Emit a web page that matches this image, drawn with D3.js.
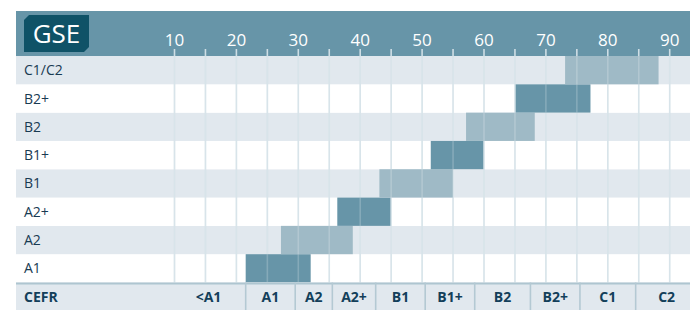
<!DOCTYPE html>
<html>
<head>
<meta charset="utf-8">
<script src="https://cdn.jsdelivr.net/npm/d3@7"></script>
<style>
  body { margin: 0; background: #fff; }
  svg { display: block; font-family: "Open Sans", sans-serif; }
</style>
</head>
<body>
<svg id="chart" width="690" height="310"></svg>
<script>
// GSE score range per CEFR level (rows, bottom to top)
const levels = ["A1", "A2", "A2+", "B1", "B1+", "B2", "B2+", "C1/C2"];
const rangeStart = [21.5, 27.2, 36.3, 43.1, 51.4, 57.1, 65.1, 73.1];
const rangeEnd = [32, 38.8, 44.9, 55, 59.9, 68.2, 77.2, 88.2];

// GSE axis
const gseTicks = [10, 20, 30, 40, 50, 60, 70, 80, 90];
const gridTicks = d3.range(10, 91, 5);

// CEFR band along the bottom
const cefrLabels = ["<A1", "A1", "A2", "A2+", "B1", "B1+", "B2", "B2+", "C1", "C2"];
const cefrBounds = [9.5, 21.5, 29.5, 35.5, 42.5, 50.5, 58.5, 67.5, 75.5, 84.5, 94.5];

const svg = d3.select("#chart");
const left = 16, right = 690;
const headTop = 11, headBottom = 56, plotBottom = 282.5, bottom = 310;

const x = d3.scaleLinear().domain([10, 90]).range([174.5, 669.7]);
const y = d3.scaleBand().domain(levels.slice().reverse()).range([headBottom, plotBottom]);

const dark = "#6795a8", light = "#9fbac6", navy = "#183a52";

// row backgrounds
svg.append("g").selectAll("rect")
  .data(levels)
  .enter().append("rect")
  .attr("x", left)
  .attr("y", d => y(d))
  .attr("width", right - left)
  .attr("height", y.bandwidth())
  .attr("fill", (d, i) => i % 2 ? "#e1e8ee" : "#fff");

// grid under bars
svg.append("g").selectAll("line")
  .data(gridTicks)
  .enter().append("line")
  .attr("x1", d => x(d)).attr("x2", d => x(d))
  .attr("y1", headBottom).attr("y2", plotBottom)
  .attr("stroke", "#cfdee5")
  .attr("stroke-width", 1.6);

// bars
svg.append("g").selectAll("rect")
  .data(levels)
  .enter().append("rect")
  .attr("x", (d, i) => x(rangeStart[i]))
  .attr("y", d => y(d))
  .attr("width", (d, i) => x(rangeEnd[i]) - x(rangeStart[i]))
  .attr("height", y.bandwidth())
  .attr("fill", (d, i) => i % 2 ? light : dark);

// grid over bars, faint
svg.append("g").selectAll("line")
  .data(gridTicks)
  .enter().append("line")
  .attr("x1", d => x(d)).attr("x2", d => x(d))
  .attr("y1", headBottom).attr("y2", plotBottom)
  .attr("stroke", "#fff")
  .attr("stroke-opacity", 0.2)
  .attr("stroke-width", 1.6);

// row labels
svg.append("g").selectAll("text")
  .data(levels)
  .enter().append("text")
  .attr("x", 24)
  .attr("y", d => y(d) + y.bandwidth() / 2)
  .attr("dy", "0.36em")
  .attr("font-size", 14)
  .attr("fill", navy)
  .text(d => d);

// header band
svg.append("rect")
  .attr("x", left).attr("y", headTop)
  .attr("width", right - left).attr("height", headBottom - headTop)
  .attr("fill", dark);

// GSE logo
const c = 5;
svg.append("path")
  .attr("d", `M${24 + c},15 L89,15 L89,${52 - c} L${89 - c},52 L24,52 L24,${15 + c} Z`)
  .attr("fill", "#0f5267");
svg.append("text")
  .attr("x", 56.5).attr("y", 43)
  .attr("text-anchor", "middle")
  .attr("font-size", 26)
  .attr("font-weight", 500)
  .attr("fill", "#fff")
  .text("GSE");

// header ticks
svg.append("g").selectAll("line")
  .data(gridTicks)
  .enter().append("line")
  .attr("x1", d => x(d)).attr("x2", d => x(d))
  .attr("y1", 49).attr("y2", headBottom)
  .attr("stroke", "#cfdee5")
  .attr("stroke-width", 1.6);

svg.append("g").selectAll("text")
  .data(gseTicks)
  .enter().append("text")
  .attr("x", d => x(d))
  .attr("y", 45.5)
  .attr("text-anchor", "middle")
  .attr("font-size", 17)
  .attr("fill", "#fff")
  .text(d => d);

// CEFR band
svg.append("rect")
  .attr("x", left).attr("y", plotBottom)
  .attr("width", right - left).attr("height", bottom - plotBottom)
  .attr("fill", "#e1e8ee");
svg.append("line")
  .attr("x1", left).attr("x2", right)
  .attr("y1", plotBottom + 1).attr("y2", plotBottom + 1)
  .attr("stroke", "#aec5d0")
  .attr("stroke-width", 2);

svg.append("g").selectAll("line")
  .data(cefrBounds.slice(1, -1))
  .enter().append("line")
  .attr("x1", d => x(d)).attr("x2", d => x(d))
  .attr("y1", plotBottom).attr("y2", bottom)
  .attr("stroke", "#b4c9d3")
  .attr("stroke-width", 1.6);

svg.append("text")
  .attr("x", 24).attr("y", (plotBottom + 2 + bottom) / 2)
  .attr("dy", "0.36em")
  .attr("font-size", 14)
  .attr("font-weight", 700)
  .attr("fill", "#133f5a")
  .text("CEFR");

svg.append("g").selectAll("text")
  .data(cefrLabels)
  .enter().append("text")
  .attr("x", (d, i) => (x(cefrBounds[i]) + x(cefrBounds[i + 1])) / 2)
  .attr("y", (plotBottom + 2 + bottom) / 2)
  .attr("dy", "0.36em")
  .attr("text-anchor", "middle")
  .attr("font-size", 14)
  .attr("font-weight", 700)
  .attr("fill", "#133f5a")
  .text(d => d);
</script>
</body>
</html>
